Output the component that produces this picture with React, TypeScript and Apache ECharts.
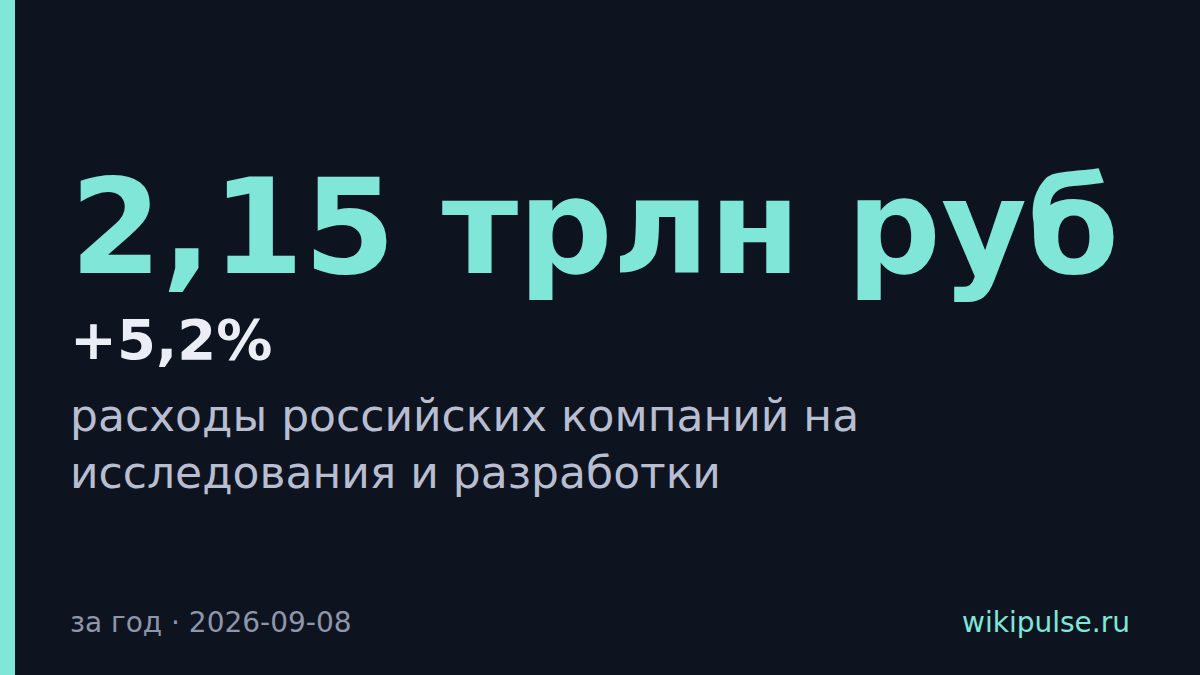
import { useEffect, useRef } from 'react'
import * as echarts from 'echarts'

const headline = '2,15 трлн руб'
const change = '+5,2%'
const captionLines = ['расходы российских компаний на', 'исследования и разработки']
const period = 'за год · 2026-09-08'
const source = 'wikipulse.ru'

const BG = '#0d141f'
const ACCENT = '#7fe6d8'
const FONT = '"DejaVu Sans", Verdana, sans-serif'

export default function App() {
  const elRef = useRef<HTMLDivElement | null>(null)

  useEffect(() => {
    if (!elRef.current) return
    const chart = echarts.init(elRef.current, undefined, { renderer: 'svg' })

    const captions = captionLines.map((line, i) => ({
      type: 'text',
      x: 70,
      y: 415 + i * 57,
      style: { text: line, fill: '#b8bdd0', font: `44px ${FONT}`, verticalAlign: 'middle' },
    }))

    chart.setOption({
      animation: false,
      backgroundColor: BG,
      graphic: [
        { type: 'rect', shape: { x: 0, y: 0, width: 15, height: 675 }, style: { fill: ACCENT } },
        {
          type: 'text',
          x: 70,
          y: 227,
          style: { text: headline, fill: ACCENT, font: `bold 132px ${FONT}`, verticalAlign: 'middle' },
        },
        {
          type: 'text',
          x: 70,
          y: 339,
          style: { text: change, fill: '#eceef6', font: `bold 56px ${FONT}`, verticalAlign: 'middle' },
        },
        ...captions,
        {
          type: 'text',
          x: 70,
          y: 622,
          style: { text: period, fill: '#8f96ab', font: `28px ${FONT}`, verticalAlign: 'middle' },
        },
        {
          type: 'text',
          x: 1130,
          y: 622,
          style: { text: source, fill: ACCENT, font: `28px ${FONT}`, align: 'right', verticalAlign: 'middle' },
        },
      ],
    })

    return () => chart.dispose()
  }, [])

  return <div ref={elRef} style={{ position: 'fixed', left: 0, top: 0, width: 1200, height: 675 }} />
}
